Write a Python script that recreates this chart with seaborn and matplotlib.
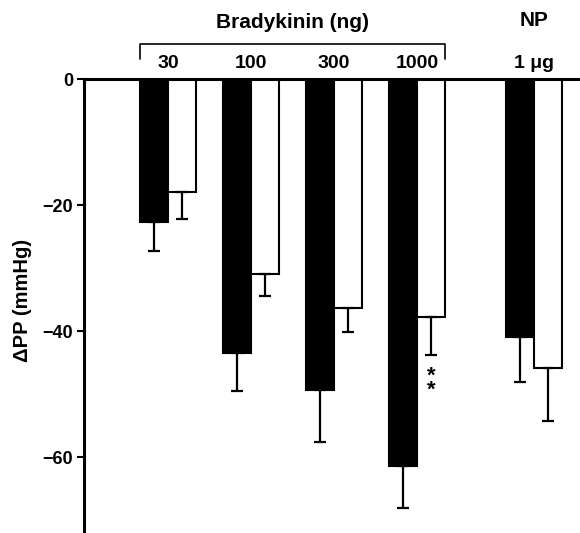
import pandas as pd
import matplotlib
matplotlib.use("Agg")
import matplotlib.pyplot as plt
import seaborn as sns

# valores (mmHg)
dosis = ["30", "100", "300", "1000", "1 μg"]
posiciones = [0, 1, 2, 3, 4.41]
media_negra = [-22.7, -43.4, -49.3, -61.4, -40.9]
sem_negra = [4.6, 6.1, 8.2, 6.7, 7.2]
media_blanca = [-17.9, -31.0, -36.3, -37.8, -45.9]
sem_blanca = [4.3, 3.4, 3.8, 5.9, 8.3]
significancia_blanca = ["", "", "", "**", ""]

df = pd.DataFrame({
    "dosis": dosis * 2,
    "pos": posiciones * 2,
    "cambio": media_negra + media_blanca,
    "sem": sem_negra + sem_blanca,
    "serie": ["negra"] * 5 + ["blanca"] * 5,
})

sns.set_theme(style="white")
plt.rcParams["font.family"] = ["Liberation Sans", "DejaVu Sans"]
plt.rcParams["font.weight"] = "bold"
plt.rcParams["text.color"] = "black"
plt.rcParams["axes.labelcolor"] = "black"
plt.rcParams["ytick.color"] = "black"

fig = plt.figure(figsize=(5.8, 5.33), dpi=100)
ax = fig.add_axes([84 / 580, 0, 496 / 580, 454 / 533])

sns.barplot(data=df, x="pos", y="cambio", hue="serie", hue_order=["negra", "blanca"],
            native_scale=True, width=0.674, palette={"negra": "black", "blanca": "white"},
            edgecolor="black", linewidth=1.5, errorbar=None, legend=False, ax=ax)

# barras de error solo hacia abajo
barras = sorted(ax.patches, key=lambda p: p.get_x())
orden = df.assign(k=df["serie"].map({"negra": 0, "blanca": 1})).sort_values(["pos", "k"])
for barra, (_, fila) in zip(barras, orden.iterrows()):
    xc = barra.get_x() + barra.get_width() / 2
    ax.errorbar(xc, fila["cambio"], yerr=[[fila["sem"]], [0]], fmt="none",
                ecolor="black", elinewidth=1.6, capsize=4.5, capthick=1.6, zorder=3)

# asteriscos de significancia (uno debajo del otro)
for barra, (_, fila) in zip(barras, orden.iterrows()):
    if fila["serie"] != "blanca":
        continue
    marca = significancia_blanca[dosis.index(fila["dosis"])]
    if marca:
        xc = barra.get_x() + barra.get_width() / 2
        fondo = fila["cambio"] - fila["sem"]
        ax.annotate("\n".join(marca), xy=(xc, fondo), xytext=(0, -8), textcoords="offset points",
                    ha="center", va="top", fontsize=16, fontweight="bold", linespacing=0.55)

ax.set_xlim(-1.012, 4.964)
ax.set_ylim(-72, 0)
ax.set_yticks([0, -20, -40, -60])
ax.set_xticks([])
ax.set_xlabel("")
ax.set_ylabel("ΔPP (mmHg)", fontsize=14.5, fontweight="bold")
ax.yaxis.set_label_coords(-0.105, 0.513)
ax.tick_params(axis="y", direction="out", length=5, width=1.5, pad=3, labelsize=13,
               left=True, colors="black")
for lbl in ax.get_yticklabels():
    lbl.set_fontweight("bold")

for lado in ["bottom", "right"]:
    ax.spines[lado].set_visible(False)
for lado in ["top", "left"]:
    ax.spines[lado].set_linewidth(2.2)
    ax.spines[lado].set_color("black")

# etiquetas superiores
for d, p in zip(dosis, posiciones):
    ax.text(p, 1.75, d, ha="center", va="baseline", fontsize=14, fontweight="bold", clip_on=False)

izq, der = posiciones[0] - 0.337, posiciones[3] + 0.337
ax.plot([izq, izq, der, der], [3.1, 5.6, 5.6, 3.1], color="black", lw=1.2, clip_on=False)
ax.text((izq + der) / 2, 8.1, "Bradykinin (ng)", ha="center", va="baseline",
        fontsize=15, fontweight="bold", clip_on=False)
ax.text(posiciones[4], 8.4, "NP", ha="center", va="baseline",
        fontsize=15, fontweight="bold", clip_on=False)

fig.savefig("out.png", dpi=100)
